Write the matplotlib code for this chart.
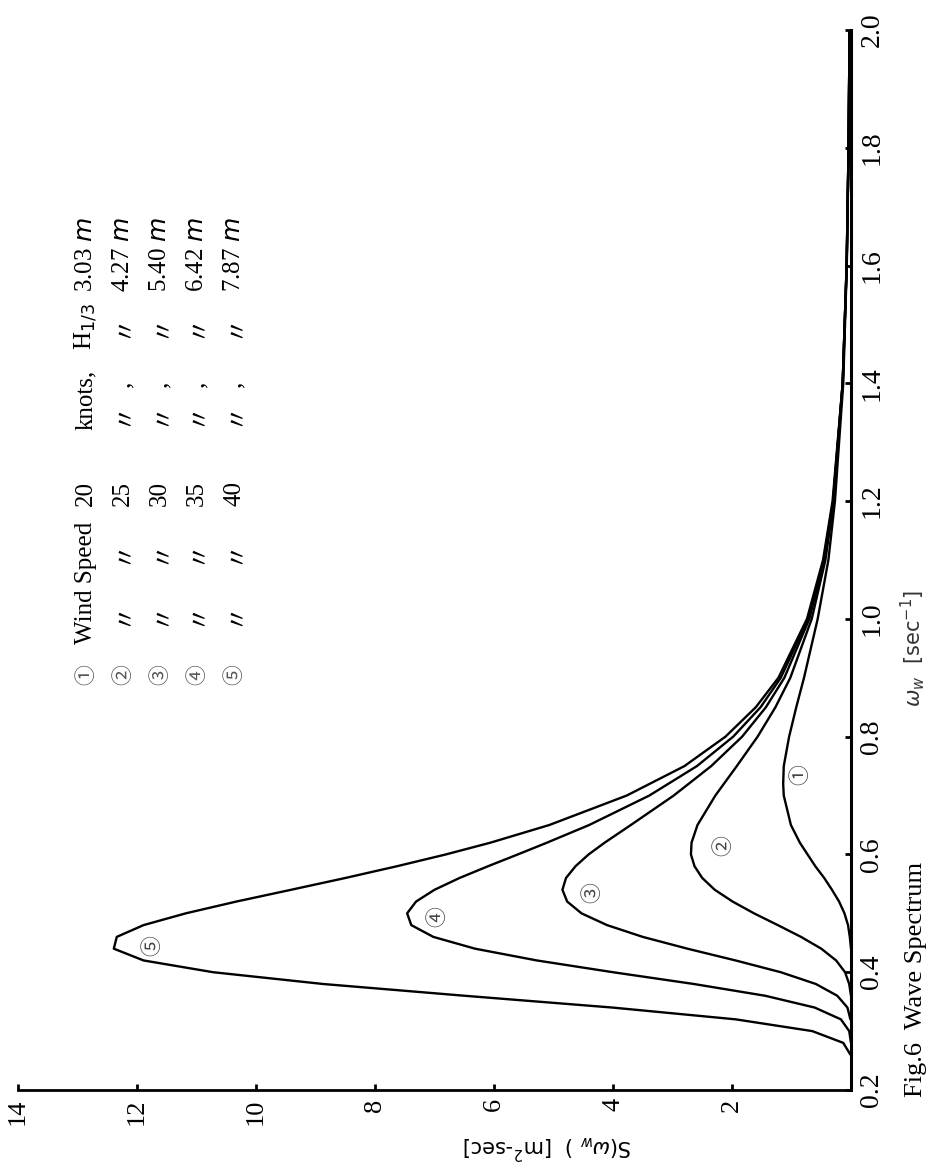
import matplotlib
matplotlib.use("Agg")
import matplotlib.pyplot as plt

# ---------------- data ----------------
omega5 = [0.26, 0.28, 0.30, 0.32, 0.34, 0.36, 0.38, 0.40, 0.42, 0.44, 0.46, 0.48, 0.50, 0.52, 0.54, 0.56,
          0.58, 0.60, 0.62, 0.65, 0.70, 0.75, 0.80, 0.85, 0.90, 1.00, 1.10, 1.20, 1.40, 1.60, 1.80, 2.00]
S5 = [0.01, 0.13, 0.65, 1.94, 4.01, 6.49, 8.87, 10.72, 11.89, 12.39, 12.34, 11.89, 11.18, 10.33, 9.41, 8.50,
      7.63, 6.81, 6.06, 5.07, 3.77, 2.80, 2.11, 1.60, 1.22, 0.74, 0.47, 0.31, 0.14, 0.074, 0.041, 0.024]

omega4 = [0.28, 0.30, 0.32, 0.34, 0.36, 0.38, 0.40, 0.42, 0.44, 0.46, 0.48, 0.50, 0.52, 0.54, 0.56, 0.58,
          0.60, 0.62, 0.65, 0.70, 0.75, 0.80, 0.85, 0.90, 1.00, 1.10, 1.20, 1.40, 1.60, 1.80, 2.00]
S4 = [0.0, 0.03, 0.17, 0.61, 1.44, 2.64, 4.00, 5.28, 6.32, 7.02, 7.39, 7.46, 7.31, 7.00, 6.58, 6.10,
      5.60, 5.11, 4.40, 3.39, 2.59, 1.98, 1.52, 1.18, 0.72, 0.46, 0.30, 0.14, 0.073, 0.041, 0.024]

omega3 = [0.32, 0.34, 0.36, 0.38, 0.40, 0.42, 0.44, 0.46, 0.48, 0.50, 0.52, 0.54, 0.56, 0.58, 0.60, 0.62,
          0.65, 0.70, 0.75, 0.80, 0.85, 0.90, 1.00, 1.10, 1.20, 1.40, 1.60, 1.80, 2.00]
S3 = [0.01, 0.06, 0.23, 0.59, 1.18, 1.94, 2.75, 3.50, 4.10, 4.53, 4.77, 4.85, 4.79, 4.63, 4.41, 4.14,
      3.70, 2.98, 2.35, 1.83, 1.43, 1.12, 0.70, 0.45, 0.30, 0.14, 0.073, 0.041, 0.024]

omega2 = [0.36, 0.38, 0.40, 0.42, 0.44, 0.46, 0.48, 0.50, 0.52, 0.54, 0.56, 0.58, 0.60, 0.62, 0.65, 0.70,
          0.75, 0.80, 0.85, 0.90, 1.00, 1.10, 1.20, 1.40, 1.60, 1.80, 2.00]
S2 = [0.0, 0.03, 0.10, 0.25, 0.50, 0.84, 1.23, 1.63, 1.99, 2.29, 2.50, 2.63, 2.69, 2.68, 2.58, 2.28,
      1.92, 1.57, 1.27, 1.02, 0.66, 0.43, 0.29, 0.14, 0.072, 0.041, 0.024]

omega1 = [0.44, 0.46, 0.48, 0.50, 0.52, 0.54, 0.56, 0.58, 0.60, 0.62, 0.65, 0.70, 0.72, 0.75, 0.80, 0.85,
          0.90, 1.00, 1.10, 1.20, 1.40, 1.60, 1.80, 2.00]
S1 = [0.0, 0.02, 0.05, 0.11, 0.20, 0.32, 0.45, 0.60, 0.73, 0.86, 1.01, 1.13, 1.14, 1.13, 1.04, 0.92,
      0.79, 0.56, 0.38, 0.27, 0.13, 0.071, 0.040, 0.024]

curve_labels = ["①", "②", "③", "④", "⑤"]
label_S = [0.85, 2.15, 4.35, 6.95, 11.75]
label_omega = [0.735, 0.615, 0.535, 0.495, 0.445]

s_ticks = [2, 4, 6, 8, 10, 12, 14]
s_tick_labels = ["2", "4", "6", "8", "10", "12", "14"]
w_ticks = [0.2, 0.4, 0.6, 0.8, 1.0, 1.2, 1.4, 1.6, 1.8, 2.0]
w_tick_labels = ["0.2", "0.4", "0.6", "0.8", "1.0", "1.2", "1.4", "1.6", "1.8", "2.0"]

legend_nums = ["①", "②", "③", "④", "⑤"]
legend_speeds = ["20", "25", "30", "35", "40"]
legend_heights = ["3.03", "4.27", "5.40", "6.42", "7.87"]

# ---------------- figure ----------------
W, H = 932, 1166
fig = plt.figure(figsize=(W / 100, H / 100), dpi=100)
fig.patch.set_facecolor("white")


def fx(x):
    return x / W


def fy(y):
    return 1 - y / H


ax = fig.add_axes([fx(18), fy(1090), (851 - 18) / W, (1090 - 30) / H])
ax.set_xlim(14, 0)
ax.set_ylim(0.2, 2.0)
for s in ["top", "left"]:
    ax.spines[s].set_visible(False)
ax.spines["right"].set_linewidth(2.2)
ax.spines["bottom"].set_linewidth(2.0)

serif = ["Liberation Serif", "DejaVu Serif"]
ax.set_xticks(s_ticks)
ax.set_xticklabels(s_tick_labels, rotation=90, fontfamily=serif, fontsize=19, va="top")
ax.yaxis.tick_right()
ax.set_yticks(w_ticks)
ax.set_yticklabels(w_tick_labels, rotation=90, fontfamily=serif, fontsize=20, va="center")
ax.tick_params(axis="x", direction="in", length=4, width=2, pad=6)
ax.tick_params(axis="y", direction="in", length=4, width=2, pad=6, right=True, left=False)

for om, S in [(omega1, S1), (omega2, S2), (omega3, S3), (omega4, S4), (omega5, S5)]:
    ax.plot(S, om, color="black", lw=1.7, solid_capstyle="round")

cj = ["Noto Sans CJK JP", "DejaVu Sans"]
for lab, xs, ys in zip(curve_labels, label_S, label_omega):
    ax.text(xs, ys, lab, rotation=90, ha="center", va="center", fontsize=15,
            family=cj, color="#444444")

# axis labels
fig.text(fx(913), fy(648), r"$\omega_w$  [sec$^{-1}$]", rotation=90, ha="center", va="center",
         fontsize=15, color="#333333")
fig.text(fx(547), fy(1147), r"S($\omega_w$ )  [m$^2$-sec]", rotation=180, ha="center", va="center",
         fontsize=15, family=["DejaVu Sans"])
fig.text(fx(916), fy(1097), "Fig.6  Wave Spectrum", rotation=90, ha="center", va="bottom",
         fontsize=19, family=serif)

# legend (table of rotated text)
col_x = [86, 123, 160, 197, 234]
lf = 18
for i in range(5):
    x = fx(col_x[i])
    fig.text(x, fy(675), legend_nums[i], rotation=90, ha="center", va="center", fontsize=15,
             family=cj, color="#555555")
    if i == 0:
        fig.text(x, fy(583), "Wind Speed", rotation=90, ha="center", va="center",
                 fontsize=lf, family=serif)
        fig.text(x, fy(400), "knots,", rotation=90, ha="center", va="center",
                 fontsize=lf, family=serif)
        fig.text(x, fy(326), r"H$_{1/3}$", rotation=90, ha="center", va="center",
                 fontsize=lf, family=serif)
    else:
        for yy in (614, 551, 413, 326):
            fig.text(x, fy(yy), "〃", rotation=90, ha="center", va="center",
                     fontsize=lf, family=cj)
        fig.text(x, fy(384), ",", rotation=90, ha="center", va="center",
                 fontsize=lf, family=serif)
    fig.text(x, fy(493), legend_speeds[i], rotation=90, ha="center", va="center",
             fontsize=lf, family=serif)
    fig.text(x, fy(292), legend_heights[i] + " $m$", rotation=90, ha="center", va="bottom",
             fontsize=lf, family=serif)

fig.savefig("out.png", dpi=100, facecolor="white")
